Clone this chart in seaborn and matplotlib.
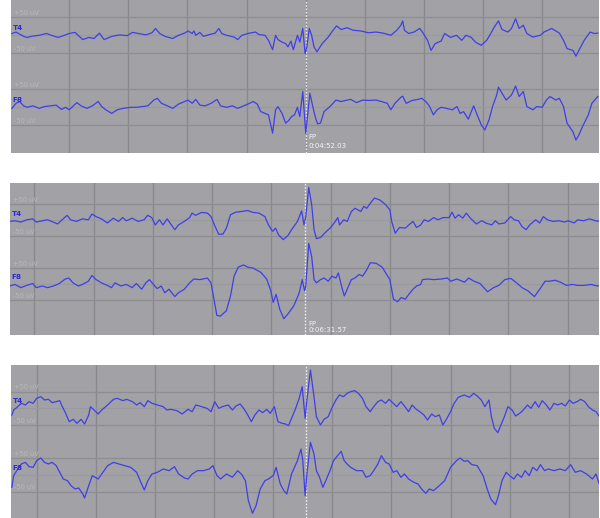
import numpy as np
import pandas as pd
import matplotlib
matplotlib.use("Agg")
import matplotlib.pyplot as plt
import seaborn as sns

# EEG epochs around three FP markers, channels T4 and F8
# time relative to the marker (s), amplitude (uV)

p1_t4_t = [-4.97, -4.90, -4.77, -4.71, -4.64, -4.51, -4.38, -4.32, -4.19, -4.13,
           -4.00, -3.90, -3.87, -3.77, -3.67, -3.58, -3.49, -3.45, -3.41, -3.28,
           -3.15, -3.02, -2.93, -2.83, -2.70, -2.60, -2.54, -2.47, -2.38, -2.25,
           -2.15, -2.05, -1.99, -1.92, -1.89, -1.86, -1.79, -1.73, -1.63, -1.53,
           -1.47, -1.42, -1.34, -1.21, -1.15, -1.08, -0.95, -0.85, -0.79, -0.69,
           -0.63, -0.56, -0.51, -0.47, -0.40, -0.34, -0.30, -0.25, -0.21, -0.14,
           -0.10, -0.05, -0.01, 0.02, 0.06, 0.10, 0.14, 0.19, 0.28, 0.38,
           0.44, 0.52, 0.60, 0.70, 0.80, 0.93, 1.06, 1.19, 1.31, 1.44,
           1.54, 1.61, 1.64, 1.67, 1.74, 1.83, 1.93, 1.99, 2.06, 2.12,
           2.19, 2.29, 2.35, 2.45, 2.55, 2.64, 2.71, 2.80, 2.87, 2.97,
           3.06, 3.13, 3.19, 3.26, 3.32, 3.42, 3.48, 3.55, 3.61, 3.68,
           3.74, 3.84, 3.97, 4.03, 4.16, 4.29, 4.36, 4.42, 4.52, 4.57,
           4.62, 4.71, 4.81, 4.88, 4.94]
p1_t4_uv = [5, 9, -3, -6, -3, 0, 5, 1, -6, -3,
            5, 8, 3, -12, -6, -9, 6, -3, -12, -3,
            1, -1, 8, 5, 1, 7, 19, 5, -3, -9,
            0, 6, 12, 5, 12, 0, 8, -3, 2, 6,
            19, 5, 0, -5, -12, 0, 6, 9, 2, 0,
            -14, -40, 0, -12, -19, -23, -32, -16, -40, 0,
            -19, 19, -51, -32, 19, 0, -32, -46, -23, -5,
            9, 26, 16, 21, 14, 12, 7, 9, 6, 0,
            14, 28, 40, 14, 5, 9, 19, 5, -14, -42,
            -23, -16, 5, -6, 0, -14, 0, -6, -19, -28,
            -14, 5, 23, 40, 16, 9, 19, 46, 19, 28,
            5, -5, 0, 9, 19, 6, -14, -37, -42, -58,
            -42, -14, 9, 5, 6]

p1_f8_t = [-4.97, -4.90, -4.84, -4.77, -4.71, -4.61, -4.51, -4.42, -4.32, -4.22,
           -4.13, -4.06, -4.00, -3.93, -3.87, -3.80, -3.70, -3.61, -3.51, -3.45,
           -3.38, -3.28, -3.19, -3.09, -2.96, -2.86, -2.77, -2.67, -2.57, -2.51,
           -2.44, -2.34, -2.25, -2.15, -2.05, -1.99, -1.92, -1.86, -1.79, -1.70,
           -1.60, -1.50, -1.44, -1.34, -1.24, -1.15, -1.05, -0.95, -0.89, -0.82,
           -0.76, -0.69, -0.63, -0.56, -0.51, -0.47, -0.40, -0.34, -0.29, -0.24,
           -0.19, -0.14, -0.10, -0.05, 0.00, 0.03, 0.07, 0.12, 0.16, 0.20,
           0.25, 0.31, 0.41, 0.51, 0.60, 0.70, 0.76, 0.86, 0.96, 1.06,
           1.19, 1.28, 1.38, 1.44, 1.51, 1.61, 1.64, 1.70, 1.80, 1.90,
           1.96, 2.03, 2.09, 2.16, 2.22, 2.29, 2.38, 2.48, 2.56, 2.61,
           2.67, 2.75, 2.84, 2.90, 2.97, 3.03, 3.10, 3.16, 3.23, 3.26,
           3.32, 3.39, 3.48, 3.55, 3.61, 3.68, 3.74, 3.84, 3.91, 4.00,
           4.07, 4.13, 4.23, 4.29, 4.36, 4.42, 4.52, 4.57, 4.62, 4.68,
           4.78, 4.84, 4.94]
p1_f8_uv = [-3, 11, 16, 4, 0, 4, -3, 2, 4, 6,
            -6, 0, -7, 4, 13, 4, -3, 4, 16, 2,
            -7, -17, -7, -3, 0, 0, 2, 4, 20, 25,
            11, 4, -3, 9, 16, 20, 11, 22, 6, 4,
            11, 22, 4, 0, 4, -3, 4, 11, 16, 9,
            -12, -17, -21, -72, -7, 2, -17, -44, -37, -26,
            -21, 0, -26, 44, -72, -26, 39, 2, -26, -46,
            -44, -12, 2, 20, 16, 20, 22, 13, 20, 19,
            20, 16, 11, -7, 11, 28, 31, 11, 19, 22,
            25, 16, 4, -21, -7, 0, -3, -7, 2, -17,
            -12, -33, 4, -21, -49, -63, -35, 2, 34, 56,
            39, 20, 34, 59, 30, 44, 2, -7, 2, 0,
            20, 30, 20, 25, 2, -44, -68, -91, -77, -54,
            -21, 11, 30]

p2_t4_t = [-4.99, -4.90, -4.80, -4.70, -4.60, -4.54, -4.44, -4.35, -4.28, -4.18,
           -4.12, -4.02, -3.96, -3.86, -3.76, -3.66, -3.60, -3.53, -3.44, -3.34,
           -3.24, -3.15, -3.08, -3.02, -2.92, -2.82, -2.72, -2.66, -2.59, -2.53,
           -2.46, -2.40, -2.33, -2.27, -2.20, -2.14, -2.04, -1.95, -1.91, -1.85,
           -1.75, -1.65, -1.59, -1.52, -1.46, -1.39, -1.33, -1.26, -1.17, -1.07,
           -0.97, -0.88, -0.78, -0.68, -0.62, -0.55, -0.50, -0.45, -0.37, -0.29,
           -0.23, -0.13, -0.06, -0.02, 0.01, 0.06, 0.11, 0.15, 0.19, 0.26,
           0.36, 0.42, 0.49, 0.55, 0.58, 0.65, 0.71, 0.78, 0.84, 0.89,
           0.94, 0.99, 1.04, 1.10, 1.17, 1.26, 1.36, 1.43, 1.46, 1.52,
           1.59, 1.69, 1.75, 1.82, 1.88, 1.95, 2.01, 2.08, 2.17, 2.24,
           2.33, 2.43, 2.48, 2.53, 2.59, 2.66, 2.72, 2.79, 2.89, 2.98,
           3.05, 3.15, 3.21, 3.27, 3.37, 3.47, 3.53, 3.60, 3.66, 3.73,
           3.79, 3.89, 3.96, 4.02, 4.09, 4.18, 4.28, 4.38, 4.44, 4.54,
           4.60, 4.70, 4.80, 4.90, 4.98]
p2_t4_uv = [-3, -1, -5, 2, 5, -5, -1, 2, -3, -11,
            -1, 16, 2, -3, 5, 2, 20, 12, 5, -8,
            7, -3, 9, -1, 7, -3, 2, 16, 9, -14,
            2, -14, 5, -11, -29, -14, -3, 9, 23, 16,
            25, 23, 12, -19, -43, -43, -24, 18, 26, 28,
            31, 25, 23, 12, -14, -34, -24, -45, -60, -47,
            -29, -3, 30, -14, 12, 103, 49, -29, -57, -53,
            -34, -24, -8, 9, -14, 2, -3, 28, 38, 33,
            28, 44, 38, 54, 70, 64, 49, 33, -3, -40,
            -22, -24, -14, -3, -22, -14, 2, -3, 9, 2,
            9, 9, 26, 7, 18, 7, 23, 7, -11, -1,
            -8, -14, -1, -11, -8, 12, 2, -1, -19, -29,
            -14, 2, -8, 12, 2, -3, -1, -5, -1, -8,
            2, -1, 5, -1, -3]

p2_f8_t = [-4.99, -4.90, -4.80, -4.70, -4.60, -4.54, -4.44, -4.35, -4.25, -4.15,
           -4.05, -3.99, -3.92, -3.83, -3.76, -3.66, -3.60, -3.53, -3.44, -3.34,
           -3.27, -3.21, -3.11, -3.02, -2.92, -2.85, -2.76, -2.69, -2.63, -2.56,
           -2.50, -2.43, -2.37, -2.30, -2.20, -2.14, -2.04, -1.95, -1.88, -1.78,
           -1.65, -1.59, -1.54, -1.49, -1.43, -1.33, -1.26, -1.20, -1.13, -1.04,
           -0.97, -0.88, -0.75, -0.65, -0.58, -0.54, -0.49, -0.43, -0.36, -0.29,
           -0.19, -0.10, -0.05, -0.01, 0.01, 0.06, 0.11, 0.15, 0.19, 0.26,
           0.32, 0.39, 0.45, 0.52, 0.56, 0.62, 0.66, 0.71, 0.78, 0.84,
           0.91, 0.97, 1.04, 1.10, 1.20, 1.30, 1.36, 1.43, 1.49, 1.56,
           1.62, 1.69, 1.75, 1.82, 1.88, 1.95, 1.98, 2.08, 2.17, 2.30,
           2.40, 2.46, 2.56, 2.69, 2.76, 2.85, 2.95, 3.08, 3.18, 3.27,
           3.37, 3.47, 3.57, 3.66, 3.76, 3.87, 3.96, 4.05, 4.12, 4.22,
           4.31, 4.41, 4.51, 4.60, 4.70, 4.83, 4.93, 4.98]
p2_f8_uv = [-5, 0, -10, -3, 3, -10, -5, -10, -5, 3,
            17, 20, 5, -5, 0, 10, 28, 15, 5, -3,
            -10, 5, -5, 0, -10, 3, -15, 5, 15, 0,
            -13, -5, -26, -15, -38, -26, -15, 5, 17, 15,
            20, 5, -46, -97, -99, -82, -36, 26, 54, 61,
            54, 51, 38, 17, -20, -56, -31, -77, -107, -92,
            -66, -26, 15, -20, -5, 128, 87, 15, 5, 15,
            20, 10, 26, 20, 36, -10, -36, -15, 15, 20,
            31, 26, 46, 68, 66, 54, 36, 15, -46, -54,
            -41, -46, -31, -15, -5, 0, 15, 17, 15, 17,
            20, 10, 17, 7, 20, 10, 3, -23, -10, -3,
            15, 19, 5, -10, -20, -38, -15, 10, 10, 13,
            7, -3, 0, -3, -3, 0, -5, -3]

p3_t4_t = [-4.97, -4.94, -4.87, -4.81, -4.74, -4.68, -4.61, -4.55, -4.48, -4.42,
           -4.35, -4.29, -4.22, -4.16, -4.13, -4.06, -4.00, -3.93, -3.87, -3.80,
           -3.74, -3.67, -3.64, -3.58, -3.51, -3.45, -3.35, -3.25, -3.19, -3.09,
           -3.03, -2.93, -2.86, -2.80, -2.73, -2.67, -2.60, -2.51, -2.41, -2.35,
           -2.28, -2.18, -2.09, -1.99, -1.92, -1.86, -1.76, -1.67, -1.60, -1.54,
           -1.47, -1.41, -1.31, -1.24, -1.18, -1.11, -1.05, -0.98, -0.92, -0.86,
           -0.79, -0.73, -0.66, -0.60, -0.53, -0.47, -0.40, -0.34, -0.29, -0.24,
           -0.17, -0.11, -0.06, -0.01, 0.02, 0.08, 0.14, 0.18, 0.25, 0.31,
           0.38, 0.44, 0.51, 0.57, 0.64, 0.70, 0.76, 0.83, 0.89, 0.96,
           1.02, 1.09, 1.15, 1.22, 1.28, 1.35, 1.41, 1.48, 1.54, 1.61,
           1.67, 1.74, 1.80, 1.87, 1.93, 2.00, 2.06, 2.13, 2.19, 2.26,
           2.32, 2.38, 2.45, 2.51, 2.58, 2.68, 2.77, 2.84, 2.90, 2.97,
           3.03, 3.10, 3.14, 3.19, 3.25, 3.29, 3.36, 3.42, 3.49, 3.55,
           3.62, 3.68, 3.75, 3.81, 3.88, 3.94, 4.00, 4.07, 4.13, 4.20,
           4.26, 4.33, 4.39, 4.46, 4.52, 4.59, 4.65, 4.72, 4.78, 4.85,
           4.91, 4.96]
p3_t4_uv = [-20, -5, 5, 15, 10, 20, 15, 30, 35, 25,
            27, 17, 20, 23, 10, -15, -40, -33, -45, -33,
            -47, -20, 5, -5, -17, -5, 10, 27, 30, 23,
            27, 20, 10, 17, 5, 23, 15, 10, 5, -5,
            -3, -7, -17, -3, -10, 10, 5, 0, -10, 20,
            0, 5, 10, -5, 7, 13, 0, -20, -40, -20,
            -5, -13, -3, -15, 5, -40, -45, -47, -52, -30,
            0, 30, 65, -30, 25, 115, 35, -25, -50, -33,
            -25, 0, 25, 40, 35, 45, 50, 53, 45, 30,
            5, -10, 5, 20, 25, 15, 27, 15, 5, 20,
            7, -10, 10, -3, -10, -20, -35, -17, -25, -20,
            -50, -33, -10, 15, 33, 40, 33, 45, 37, 25,
            5, 25, -25, -60, -73, -55, -25, 5, -5, -23,
            -15, -5, 10, 0, 20, 3, 23, 10, -5, 15,
            10, 15, 7, 25, 15, 20, 27, 20, 5, -5,
            -10, -23]

p3_f8_t = [-4.97, -4.94, -4.87, -4.81, -4.74, -4.68, -4.61, -4.55, -4.48, -4.42,
           -4.35, -4.29, -4.22, -4.16, -4.10, -4.03, -3.97, -3.90, -3.84, -3.77,
           -3.74, -3.67, -3.61, -3.51, -3.45, -3.35, -3.25, -3.16, -3.06, -2.96,
           -2.86, -2.80, -2.73, -2.67, -2.60, -2.51, -2.41, -2.31, -2.22, -2.15,
           -2.05, -1.99, -1.92, -1.83, -1.73, -1.63, -1.57, -1.50, -1.44, -1.34,
           -1.24, -1.15, -1.08, -1.02, -0.97, -0.90, -0.84, -0.77, -0.69, -0.63,
           -0.55, -0.50, -0.43, -0.37, -0.32, -0.24, -0.14, -0.08, -0.05, -0.01,
           0.02, 0.08, 0.14, 0.18, 0.23, 0.29, 0.34, 0.41, 0.47, 0.54,
           0.60, 0.65, 0.70, 0.76, 0.86, 0.96, 1.02, 1.09, 1.15, 1.22,
           1.28, 1.35, 1.41, 1.48, 1.54, 1.61, 1.67, 1.74, 1.83, 1.90,
           1.96, 2.03, 2.09, 2.16, 2.26, 2.35, 2.45, 2.55, 2.61, 2.68,
           2.74, 2.81, 2.90, 3.00, 3.07, 3.13, 3.21, 3.26, 3.32, 3.39,
           3.45, 3.52, 3.58, 3.65, 3.71, 3.78, 3.84, 3.91, 3.97, 4.04,
           4.10, 4.20, 4.30, 4.39, 4.48, 4.56, 4.65, 4.75, 4.85, 4.91,
           4.96]
p3_f8_uv = [-37, -2, 18, 33, 38, 25, 23, 43, 51, 38,
            33, 38, 28, 8, -12, -17, -32, -42, -39, -57,
            -69, -32, -2, -12, 3, 28, 38, 33, 28, 23,
            8, -17, -45, -17, 3, 8, 18, 13, 25, 3,
            -9, -12, 3, 13, 13, 18, 28, -2, -12, 3,
            -7, 13, 1, -17, -77, -115, -92, -42, -17, -12,
            -2, 23, -27, -47, -57, 3, 43, 78, 43, -62,
            3, 98, 63, 13, -5, -37, -17, 13, 43, 58,
            71, 43, 33, 23, 13, 13, -7, -2, 13, 33,
            58, 38, 33, 8, 13, -7, 3, -12, -22, -27,
            -42, -55, -42, -47, -32, -17, 23, 43, 51, 41,
            43, 31, 28, -2, -42, -72, -89, -62, -17, 8,
            -2, -12, 3, -7, 13, -2, 23, 13, 31, 13,
            18, 13, 18, 13, 31, 8, 13, 3, -12, 3,
            -25]

channels = ["T4", "F8"]
marker_labels = ["0:04:52.03", "0:06:31.57", None]

# layout of the three screenshot strips (figure fractions)
rects = [[0.0178, 0.7046, 0.9805, 0.2954],
         [0.0160, 0.3533, 0.9823, 0.2934],
         [0.0178, 0.0000, 0.9805, 0.2954]]
ylims = [(-327, 98), (-358, 117), (-329, 130)]
grid_shift = [0.0, -0.57, -0.55]
fp_y = [(0.105, 0.043), (0.074, 0.033), None]
traces = [[(p1_t4_t, p1_t4_uv), (p1_f8_t, p1_f8_uv)],
          [(p2_t4_t, p2_t4_uv), (p2_f8_t, p2_f8_uv)],
          [(p3_t4_t, p3_t4_uv), (p3_f8_t, p3_f8_uv)]]
offsets = [0, -200]

bg = "#a2a1a6"
trace_col = "#3f3fe6"
xlim = (-4.99, 4.96)

fig = plt.figure(figsize=(6.0, 5.18), dpi=100)
fig.patch.set_facecolor("white")

for i in range(3):
    ax = fig.add_axes(rects[i])
    ax.set_facecolor(bg)
    for s in ax.spines.values():
        s.set_visible(False)
    ax.set_xlim(*xlim)
    ax.set_ylim(*ylims[i])
    ax.set_xticks([])
    ax.set_yticks([])

    # one-second grid
    for g in np.arange(-5, 6) + grid_shift[i]:
        if xlim[0] < g < xlim[1] and abs(g) > 0.05:
            ax.axvline(g, color="#89888d", lw=1.0, zorder=1)
    if i == 0:
        ax.axvline(0, color="#89888d", lw=1.0, zorder=1)

    for off, ch in zip(offsets, channels):
        ax.axhline(off + 50, color="#8e8d92", lw=1.0, zorder=1)
        ax.axhline(off - 50, color="#8e8d92", lw=1.0, zorder=1)
        ax.axhline(off, color="#9a999e", lw=0.8, zorder=1)
        ax.annotate("+50 uV", xy=(-4.93, off + 50), xytext=(0, 3), textcoords="offset points",
                    fontsize=4.8, color="#b9b8bd", va="center", ha="left", zorder=2)
        ax.annotate("-50 uV", xy=(-4.93, off - 50), xytext=(0, 3), textcoords="offset points",
                    fontsize=4.8, color="#b9b8bd", va="center", ha="left", zorder=2)
        ax.annotate(ch, xy=(-4.955, off), xytext=(0, 5), textcoords="offset points",
                    fontsize=5.2, color="#2b2bd8", fontweight="bold", va="center", ha="left", zorder=4)

    # FP marker
    ax.axvline(0, color="#ececec", lw=1.0, ls=(0, (1.2, 1.2)), zorder=2)

    for (t, uv), off in zip(traces[i], offsets):
        df = pd.DataFrame({"t": t, "uv": np.array(uv) + off})
        sns.lineplot(data=df, x="t", y="uv", ax=ax, color=trace_col, lw=0.9,
                     estimator=None, sort=False, zorder=3)
    ax.set_xlabel("")
    ax.set_ylabel("")

    if marker_labels[i] is not None:
        y1, y2 = fp_y[i]
        tr = ax.get_xaxis_transform()
        ax.text(0.05, y1, "FP", transform=tr, fontsize=5.0, color="#f4f4f4",
                va="center", ha="left", zorder=4)
        ax.text(0.05, y2, marker_labels[i], transform=tr, fontsize=5.0, color="#f4f4f4",
                va="center", ha="left", zorder=4)

fig.savefig("out.png", dpi=100)
